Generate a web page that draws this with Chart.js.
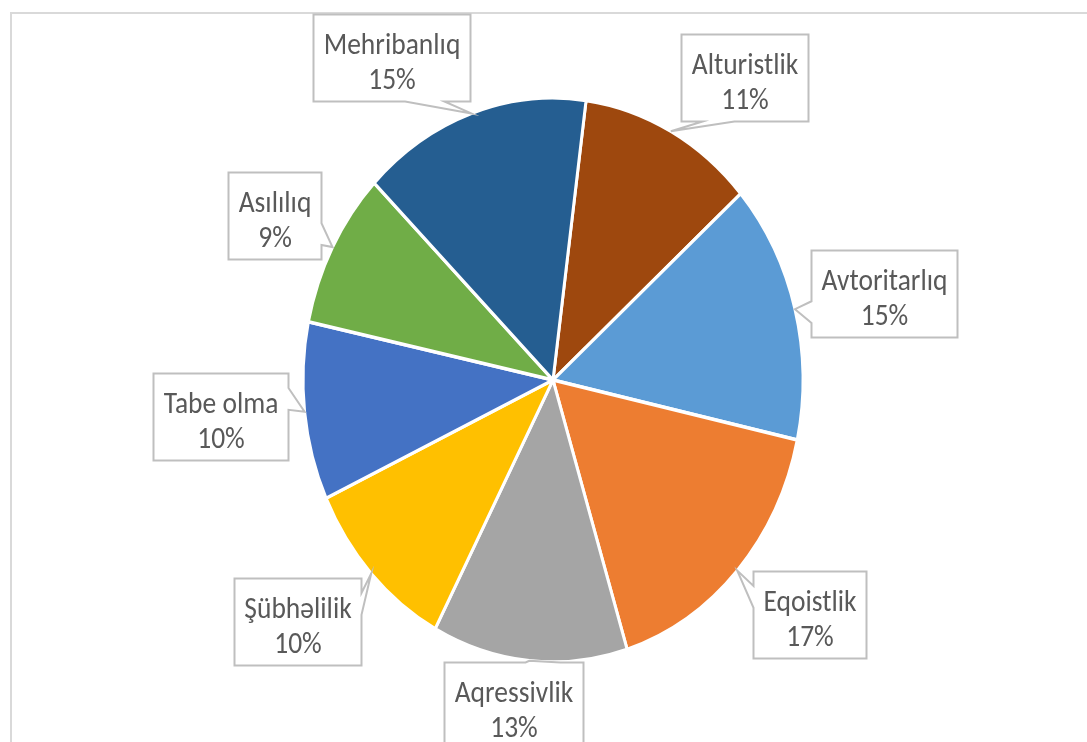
<!DOCTYPE html>
<html>
<head>
<meta charset="utf-8">
<script src="https://cdn.jsdelivr.net/npm/chart.js@4"></script>
<style>
html,body{margin:0;padding:0;background:#ffffff;}
#wrap{width:1087px;height:742px;position:relative;overflow:hidden;}
canvas{display:block;}
</style>
</head>
<body>
<div id="wrap"><canvas id="c" width="1087" height="742"></canvas></div>
<script>
const categories = ['Alturistlik','Avtoritarlıq','Eqoistlik','Aqressivlik','Şübhəlilik','Tabe olma','Asılılıq','Mehribanlıq'];
const values = [11.4, 14.9, 16.8, 12.6, 10.3, 10.2, 9.0, 14.8];
const sliceColors = ['#9E480E','#5B9BD5','#ED7D31','#A5A5A5','#FFC000','#4472C4','#70AD47','#255E91'];

const total = values.reduce((a, b) => a + b, 0);
const percentLabels = values.map(v => Math.round(v / total * 100) + '%');

// callout placement relative to each slice: angle nudge (deg) from the slice middle, distance in radii
const labelAngleOffset = [7.4, 1.5, -3.4, 2.26, 3.42, 0.82, -0.58, -10.44];
const labelDistance = [1.318, 1.359, 1.32, 1.166, 1.335, 1.336, 1.258, 1.314];

const SY = 1.128;            // vertical stretch of the picture
const FONT = '27.5px Carlito, Lato, "Open Sans", sans-serif';
const PADX = 10;
const BOXH = 87;
const BASE1 = 39, BASE2 = 74;

function drawLabels(chart) {
  const ctx = chart.ctx;
  const meta = chart.getDatasetMeta(0);
  ctx.save();
  ctx.font = FONT;
  meta.data.forEach((arc, i) => {
    const p = arc.getProps(['x', 'y', 'startAngle', 'endAngle', 'outerRadius'], true);
    const cx = p.x, cy = p.y, r = p.outerRadius;
    const mid = (p.startAngle + p.endAngle) / 2;
    const tip = { x: cx + r * Math.cos(mid), y: cy + r * SY * Math.sin(mid) };
    const a = mid + labelAngleOffset[i] * Math.PI / 180;
    const d = r * labelDistance[i];
    const bx = cx + d * Math.cos(a), by = cy + d * SY * Math.sin(a);
    const lines = [categories[i], percentLabels[i]];
    const tw = Math.max(...lines.map(l => ctx.measureText(l).width));
    const w = Math.round(tw + 2 * PADX), h = BOXH;
    const L = Math.round(bx - w / 2) + 0.5, T = Math.round(by - h / 2) + 0.5;
    const R = L + w, B = T + h;
    const inside = tip.x >= L && tip.x <= R && tip.y >= T && tip.y <= B;
    const dxPos = tip.x - bx, dyPos = tip.y - by;

    ctx.beginPath();
    if (inside) {
      ctx.rect(L, T, w, h);
    } else {
      const dq = dxPos * h / w;
      if (Math.abs(dyPos) > Math.abs(dq)) {
        const x1 = L + w * (dxPos > 0 ? 7 : 2) / 12, x2 = L + w * (dxPos > 0 ? 10 : 5) / 12;
        if (dyPos < 0) {
          ctx.moveTo(L, T); ctx.lineTo(x1, T); ctx.lineTo(tip.x, tip.y); ctx.lineTo(x2, T);
          ctx.lineTo(R, T); ctx.lineTo(R, B); ctx.lineTo(L, B); ctx.closePath();
        } else {
          ctx.moveTo(L, T); ctx.lineTo(R, T); ctx.lineTo(R, B); ctx.lineTo(x2, B);
          ctx.lineTo(tip.x, tip.y); ctx.lineTo(x1, B); ctx.lineTo(L, B); ctx.closePath();
        }
      } else {
        const y1 = T + h * (dyPos > 0 ? 7 : 2) / 12, y2 = T + h * (dyPos > 0 ? 10 : 5) / 12;
        if (dxPos < 0) {
          ctx.moveTo(L, T); ctx.lineTo(R, T); ctx.lineTo(R, B); ctx.lineTo(L, B);
          ctx.lineTo(L, y2); ctx.lineTo(tip.x, tip.y); ctx.lineTo(L, y1); ctx.closePath();
        } else {
          ctx.moveTo(L, T); ctx.lineTo(R, T); ctx.lineTo(R, y1); ctx.lineTo(tip.x, tip.y);
          ctx.lineTo(R, y2); ctx.lineTo(R, B); ctx.lineTo(L, B); ctx.closePath();
        }
      }
    }
    ctx.fillStyle = '#ffffff';
    ctx.fill();
    ctx.lineWidth = 2;
    ctx.lineJoin = 'miter';
    ctx.strokeStyle = '#BFBFBF';
    ctx.stroke();

    ctx.fillStyle = '#595959';
    ctx.textAlign = 'center';
    ctx.textBaseline = 'alphabetic';
    [BASE1, BASE2].forEach((off, j) => {
      ctx.save();
      ctx.translate(L + w / 2, T + off);
      ctx.scale(1, SY);
      ctx.fillText(lines[j], 0, 0);
      ctx.restore();
    });
  });
  ctx.restore();
}

const calloutPlugin = {
  id: 'callouts',
  beforeDraw(chart) {
    const ctx = chart.ctx;
    ctx.save();
    ctx.strokeStyle = '#D9D9D9';
    ctx.lineWidth = 2;
    ctx.strokeRect(11, 13, 2000, 2000);
    ctx.restore();
  },
  beforeDatasetsDraw(chart) {
    const arc = chart.getDatasetMeta(0).data[0];
    const ctx = chart.ctx;
    ctx.save();
    ctx.translate(arc.x, arc.y);
    ctx.scale(1, SY);
    ctx.translate(-arc.x, -arc.y);
  },
  afterDatasetsDraw(chart) {
    chart.ctx.restore();
    drawLabels(chart);
  }
};

new Chart(document.getElementById('c'), {
  type: 'pie',
  data: {
    labels: categories,
    datasets: [{
      data: values,
      backgroundColor: sliceColors,
      borderColor: '#ffffff',
      borderWidth: 3,
      hoverOffset: 0
    }]
  },
  options: {
    responsive: false,
    animation: false,
    events: [],
    rotation: 7.6,
    radius: 250,
    layout: { padding: { left: 19, top: 18, right: 0, bottom: 0 } },
    plugins: {
      legend: { display: false },
      tooltip: { enabled: false },
      title: { display: false }
    }
  },
  plugins: [calloutPlugin]
});
</script>
</body>
</html>
